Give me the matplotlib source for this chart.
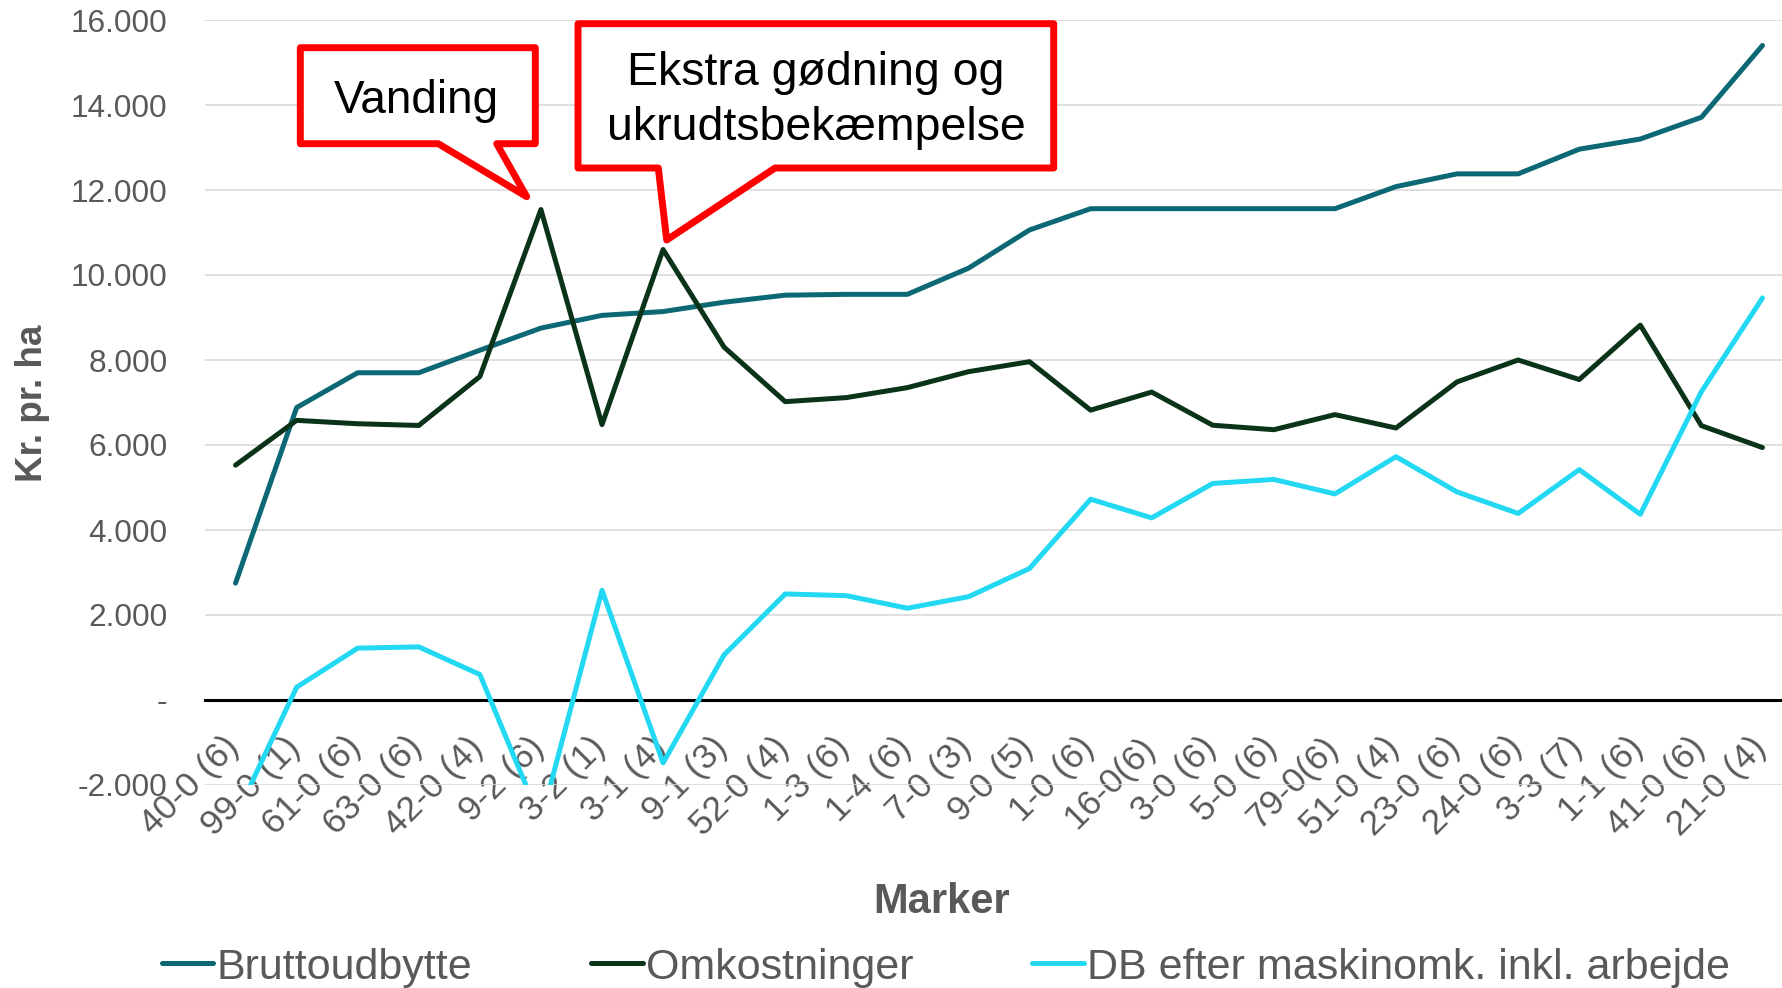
import matplotlib
matplotlib.use("Agg")
import matplotlib.pyplot as plt
from matplotlib.patches import Polygon
from matplotlib.transforms import ScaledTranslation

plt.rcParams['font.family'] = ['Liberation Sans', 'DejaVu Sans']

categories = ["40-0 (6)", "99-0 (1)", "61-0 (6)", "63-0 (6)", "42-0 (4)", "9-2 (6)",
              "3-2 (1)", "3-1 (4)", "9-1 (3)", "52-0 (4)", "1-3 (6)", "1-4 (6)",
              "7-0 (3)", "9-0 (5)", "1-0 (6)", "16-0(6)", "3-0 (6)", "5-0 (6)",
              "79-0(6)", "51-0 (4)", "23-0 (6)", "24-0 (6)", "3-3 (7)", "1-1 (6)",
              "41-0 (6)", "21-0 (4)"]

bruttoudbytte = [2750, 6880, 7700, 7700, 8230, 8750, 9050, 9140, 9360, 9525, 9545, 9545,
                 10160, 11060, 11560, 11560, 11560, 11560, 11560, 12080, 12380, 12380,
                 12960, 13200, 13710, 15400]
omkostninger = [5525, 6580, 6500, 6460, 7610, 11540, 6480, 10600, 8300, 7020, 7115, 7350,
                7725, 7960, 6820, 7245, 6465, 6360, 6715, 6400, 7485, 8000, 7540, 8820,
                6455, 5940]
db_efter = [-2750, 300, 1220, 1250, 600, -2850, 2580, -1480, 1065, 2495, 2455, 2160,
            2430, 3095, 4725, 4285, 5095, 5190, 4850, 5725, 4895, 4390, 5420, 4370,
            7255, 9460]

series_names = ["Bruttoudbytte", "Omkostninger", "DB efter maskinomk. inkl. arbejde"]
y_ticks = [-2000, 0, 2000, 4000, 6000, 8000, 10000, 12000, 14000, 16000]
y_ticklabels = ["-2.000", "-", "2.000", "4.000", "6.000", "8.000", "10.000", "12.000",
                "14.000", "16.000"]

C_TEAL = "#0B6874"
C_DARK = "#0A3319"
C_CYAN = "#22D8F2"
GRAY = "#595959"

W, H = 1783, 988
fig = plt.figure(figsize=(W / 100, H / 100), dpi=100)
ax = fig.add_axes([205 / W, 1 - 785 / H, (1793 - 205) / W, (785 - 20) / H])

x = list(range(len(categories)))
l1, = ax.plot(x, bruttoudbytte, color=C_TEAL, lw=3.6, solid_capstyle='round', solid_joinstyle='round', zorder=3)
l2, = ax.plot(x, omkostninger, color=C_DARK, lw=3.6, solid_capstyle='round', solid_joinstyle='round', zorder=4)
l3, = ax.plot(x, db_efter, color=C_CYAN, lw=3.6, solid_capstyle='round', solid_joinstyle='round', zorder=5)

ax.set_xlim(-0.5, len(categories) - 0.5)
ax.set_ylim(-2000, 16000)
ax.set_yticks(y_ticks)
ax.set_yticklabels(y_ticklabels)
ax.grid(axis='y', color='#D9D9D9', lw=1.2)
ax.set_axisbelow(True)
for s in ['top', 'right', 'left']:
    ax.spines[s].set_visible(False)
ax.spines['bottom'].set_position(('data', 0))
ax.spines['bottom'].set_color('black')
ax.spines['bottom'].set_linewidth(2.2)
ax.spines['bottom'].set_zorder(2.5)

ax.tick_params(axis='y', length=0, pad=27, labelsize=22.8, labelcolor=GRAY)
ax.tick_params(axis='x', length=0, pad=22, labelsize=25.5, labelcolor=GRAY)
ax.set_xticks(x)
ax.set_xticklabels(categories, rotation=45, ha='right', va='top')
off = ScaledTranslation(10 / 100, 0, fig.dpi_scale_trans)
for lbl in ax.get_xticklabels():
    lbl.set_transform(lbl.get_transform() + off)

# axis titles
fig.text(32.5 / W, 1 - 403.5 / H, "Kr. pr. ha", rotation=90, ha='center', va='center',
         fontsize=26.5, fontweight='bold', color=GRAY)
fig.text(941.5 / W, 1 - 913 / H, "Marker", ha='center', va='baseline',
         fontsize=30, fontweight='bold', color=GRAY)

# legend
fig.legend([l1, l2, l3], series_names, loc='center', bbox_to_anchor=(946 / W, 1 - 967.5 / H),
           ncol=3, frameon=False, fontsize=31, labelcolor=GRAY, handlelength=1.2,
           handletextpad=0.08, columnspacing=2.75, borderpad=0, borderaxespad=0)


def fp(px, py):
    return (px / W, 1 - py / H)


# callout 1: Vanding
poly1 = [fp(300.3, 47.7), fp(535.3, 47.7), fp(535.3, 143.7), fp(496.7, 143.7),
         fp(526.7, 196.7), fp(438.3, 143.7), fp(300.3, 143.7)]
fig.add_artist(Polygon(poly1, closed=True, transform=fig.transFigure, facecolor='white',
                       edgecolor='#FF0000', lw=5, joinstyle='round', zorder=10))
fig.text(416.7 / W, 1 - 113.3 / H, "Vanding", ha='center', va='baseline', fontsize=33,
         color='black', zorder=11)

# callout 2
poly2 = [fp(578, 23.7), fp(1053.7, 23.7), fp(1053.7, 168), fp(775, 168),
         fp(666.7, 240), fp(658.3, 168), fp(578, 168)]
fig.add_artist(Polygon(poly2, closed=True, transform=fig.transFigure, facecolor='white',
                       edgecolor='#FF0000', lw=5, joinstyle='round', zorder=10))
fig.text(816 / W, 1 - 85 / H, "Ekstra gødning og", ha='center', va='baseline', fontsize=33.5,
         color='black', zorder=11)
fig.text(816 / W, 1 - 140 / H, "ukrudtsbekæmpelse", ha='center', va='baseline', fontsize=33.5,
         color='black', zorder=11)

fig.savefig("out.png", dpi=100)
